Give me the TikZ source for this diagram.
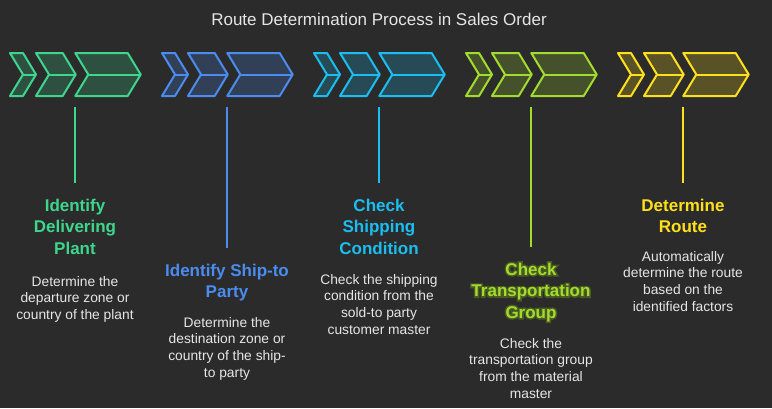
\documentclass[tikz,border=0pt]{standalone}
\usepackage{fontspec}
\setmainfont{Liberation Sans}
\newfontface\glowface[FakeBold=18]{Liberation Sans Bold}
\definecolor{bg}{HTML}{2B2B2B}
\definecolor{cgreen}{HTML}{3DD68C}
\definecolor{cblue}{HTML}{4A8CF0}
\definecolor{ccyan}{HTML}{1BBEF0}
\definecolor{clime}{HTML}{A2DC2E}
\definecolor{cyellow}{HTML}{FFE01B}
\definecolor{txt}{HTML}{E6E6E6}
\definecolor{glow}{HTML}{4A5A20}
\newcommand\chevshape[3]{%
  \filldraw[draw=#3, fill=#3, fill opacity=0.22, line width=2pt, line join=round]
    (#1,53) -- (#1+#2,53) -- (#1+#2+13,74.5) -- (#1+#2,96) -- (#1,96) -- (#1+13,74.5) -- cycle;
  \draw[#3, line width=2pt] (#1+13,74.5) -- (#1+#2+13,74.5);}
\newcommand\chevgroup[2]{%
  \chevshape{#1+10}{13}{#2}%
  \chevshape{#1+36}{26.7}{#2}%
  \chevshape{#1+75.3}{52.4}{#2}}
\newcommand\glowline[1]{\ooalign{\hfil{\color{glow}\glowface #1}\hfil\cr\hfil{\color{clime}#1}\hfil}}
\tikzset{
  steptitle/.style={anchor=north, inner sep=0pt, align=center, font=\bfseries\fontsize{17}{21.5}\selectfont},
  stepdesc/.style={anchor=north, inner sep=0pt, align=center, text=txt, font=\fontsize{13.8}{16.7}\selectfont},
  stemline/.style={line width=1.5pt}
}
\begin{document}
\begin{tikzpicture}[x=1pt,y=-1pt]
\fill[bg] (0,0) rectangle (772,408);
\useasboundingbox (0,0) rectangle (772,408);

\node[text=txt, font=\fontsize{17}{20}\selectfont] (title) at (379,19) {Route Determination Process in Sales Order};

\chevgroup{0}{cgreen}
\chevgroup{152}{cblue}
\chevgroup{304}{ccyan}
\chevgroup{456}{clime}
\chevgroup{608}{cyellow}

% stems
\coordinate (s1a) at (75,107);  \coordinate (s1b) at (75,183);
\coordinate (s2a) at (227,107); \coordinate (s2b) at (227,248);
\coordinate (s3a) at (379,107); \coordinate (s3b) at (379,183);
\coordinate (s4a) at (531,107); \coordinate (s4b) at (531,247);
\coordinate (s5a) at (683,107); \coordinate (s5b) at (683,183);
\draw[stemline, cgreen] (s1a) -- (s1b);
\draw[stemline, cblue] (s2a) -- (s2b);
\draw[stemline, ccyan] (s3a) -- (s3b);
\draw[stemline, clime] (s4a) -- (s4b);
\draw[stemline, cyellow] (s5a) -- (s5b);

% titles
\node[steptitle, text=cgreen] (t1) at (75,198.5) {Identify\\Delivering\\Plant};
\node[steptitle, text=cblue] (t2) at (227,263.5) {Identify Ship-to\\Party};
\node[steptitle, text=ccyan] (t3) at (379,198.5) {Check\\Shipping\\Condition};
\node[steptitle, text=clime] (t4) at (531,262.5)
  {\glowline{Check}\\\glowline{Transportation}\\\glowline{Group}};
\node[steptitle, text=cyellow] (t5) at (683,198.5) {Determine\\Route};

% descriptions
\node[stepdesc] (d1) at (75,276) {Determine the\\departure zone or\\country of the plant};
\node[stepdesc] (d2) at (227,317) {Determine the\\destination zone or\\country of the ship-\\to party};
\node[stepdesc] (d3) at (379,274) {Check the shipping\\condition from the\\sold-to party\\customer master};
\node[stepdesc] (d4) at (531,338) {Check the\\transportation group\\from the material\\master};
\node[stepdesc] (d5) at (683,251) {Automatically\\determine the route\\based on the\\identified factors};
\end{tikzpicture}
\end{document}
